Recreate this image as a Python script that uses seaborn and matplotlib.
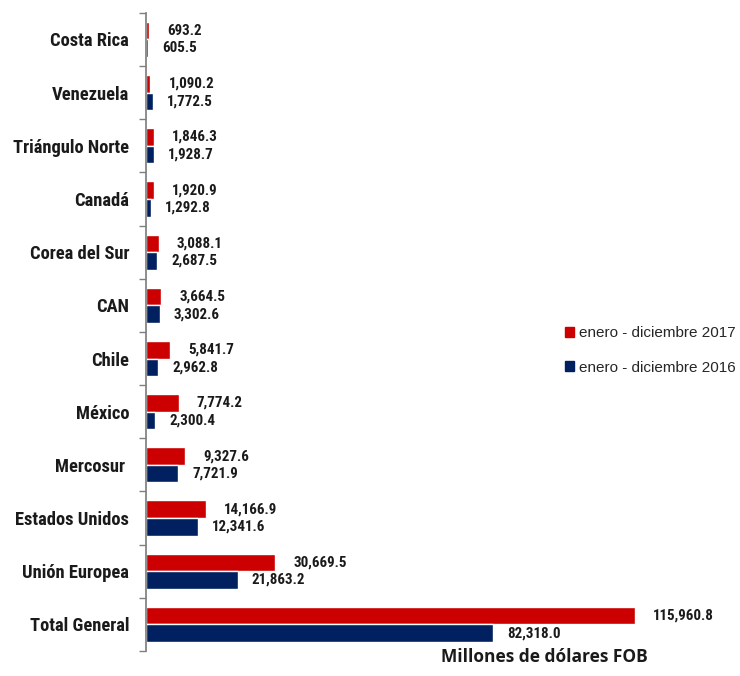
import pandas as pd
import seaborn as sns
import matplotlib.pyplot as plt
from matplotlib.patches import Patch

# datos (millones de dólares FOB)
regiones = ['Costa Rica', 'Venezuela', 'Triángulo Norte', 'Canadá', 'Corea del Sur', 'CAN',
            'Chile', 'México', 'Mercosur ', 'Estados Unidos', 'Unión Europea', 'Total General']
valores_2017 = [693.2, 1090.2, 1846.3, 1920.9, 3088.1, 3664.5,
                5841.7, 7774.2, 9327.6, 14166.9, 30669.5, 115960.8]
valores_2016 = [605.5, 1772.5, 1928.7, 1292.8, 2687.5, 3302.6,
                2962.8, 2300.4, 7721.9, 12341.6, 21863.2, 82318.0]
periodos = ['enero - diciembre 2017', 'enero - diciembre 2016']
colores = ['#CC0000', '#002060']

df = pd.DataFrame({
    'region': regiones * 2,
    'valor': valores_2017 + valores_2016,
    'periodo': [periodos[0]] * len(regiones) + [periodos[1]] * len(regiones),
})

sns.set_theme(style='white')
narrow = ['Roboto Condensed', 'Liberation Sans', 'DejaVu Sans']
plt.rcParams['font.family'] = narrow

fig = plt.figure(figsize=(7.4, 6.76), dpi=100)
ax = fig.add_axes([0.197, 0.037, 0.803, 0.944])

sns.barplot(data=df, y='region', x='valor', hue='periodo', order=regiones,
            hue_order=periodos, palette=colores, orient='h', width=0.66,
            saturation=1, legend=False, ax=ax)

# etiquetas de valor (rojo un poco más separado, como en el original)
for cont, pad in zip(ax.containers, [13, 10]):
    ax.bar_label(cont, labels=[f'{v:,.1f}' for v in cont.datavalues],
                 padding=pad, fontsize=10.8, fontweight='bold', color='#1a1a1a')

ax.set_xlim(0, 140900)
ax.set_ylim(len(regiones) - 0.5, -0.5)
ax.set_xticks([])
ax.set_xlabel('')
ax.set_ylabel('')
ax.tick_params(axis='y', which='major', length=0, labelsize=13.3, pad=12)
for lbl in ax.get_yticklabels():
    lbl.set_fontweight('bold')
    lbl.set_color('#1a1a1a')
ax.set_yticks([i - 0.5 for i in range(len(regiones) + 1)], minor=True)
ax.tick_params(axis='y', which='minor', length=5, color='#808080', width=1, left=True)

for s in ['top', 'right', 'bottom']:
    ax.spines[s].set_visible(False)
ax.spines['left'].set_color('#808080')

handles = [Patch(color=c, label=p) for c, p in zip(colores, periodos)]
ax.legend(handles=handles, loc='center left', bbox_to_anchor=(0.705, 0.471),
          frameon=False, handlelength=0.6, handleheight=0.6, borderpad=0,
          borderaxespad=0, handletextpad=0.35, labelspacing=1.35,
          prop={'family': ['Liberation Sans', 'DejaVu Sans'], 'size': 11})

fig.text(0.735, 0.015, 'Millones de dólares FOB', ha='center', va='bottom',
         fontsize=12.5, fontweight='bold', family=['Open Sans', 'DejaVu Sans'], color='#1a1a1a')

plt.savefig('out.png', dpi=100)
